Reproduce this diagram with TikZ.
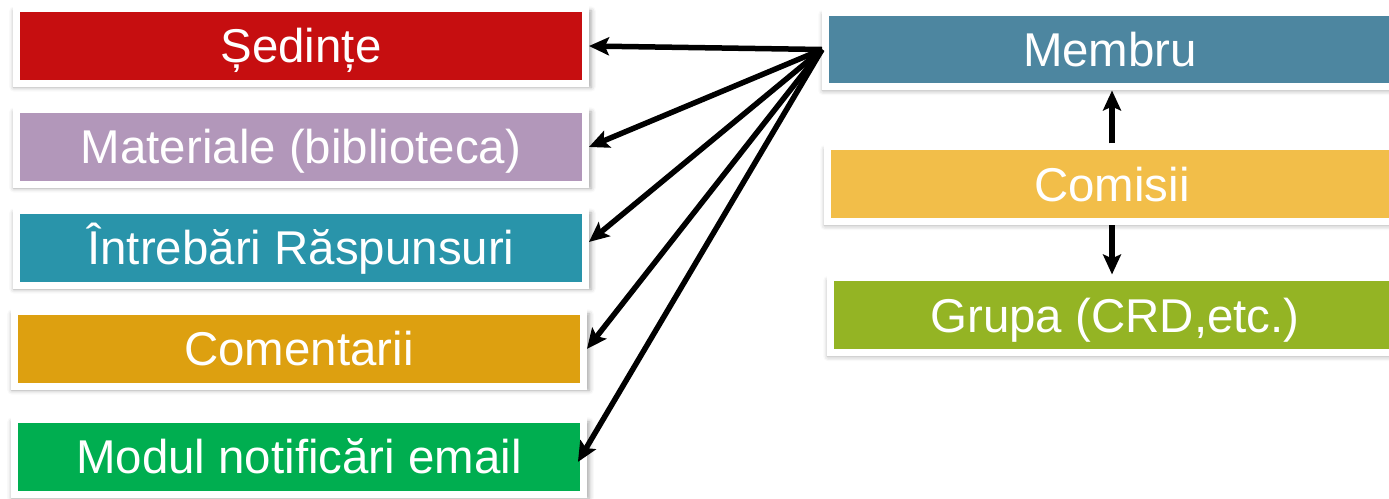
\documentclass[tikz,border=0pt]{standalone}
\usepackage{fontspec}
\setmainfont{Liberation Sans}
\usepackage{tikz}
\usetikzlibrary{
	positioning,
	arrows.meta,
	shadows.blur
}

\definecolor{cSedinte}{RGB}{198,14,16}
\definecolor{cMateriale}{RGB}{178,151,186}
\definecolor{cIntrebari}{RGB}{41,148,170}
\definecolor{cComentarii}{RGB}{221,160,16}
\definecolor{cModul}{RGB}{0,174,80}
\definecolor{cMembru}{RGB}{77,134,160}
\definecolor{cComisii}{RGB}{242,190,73}
\definecolor{cGrupa}{RGB}{148,180,36}

\tikzset{
	box/.style={draw=white, line width=0.14cm, text=white,
		minimum width=11.38cm, minimum height=1.5cm, inner sep=0pt,
		text height=19pt, text depth=0pt,
		font=\fontsize{27}{30}\selectfont,
		blur shadow={shadow xshift=0.03cm, shadow yshift=-0.06cm,
			shadow scale=1.015, shadow blur radius=0.09cm,
			shadow opacity=35}},
	link/.style={-{Stealth[length=0.4cm,width=0.36cm,inset=0.08cm]},
		line width=0.11cm, black}
}

\begin{document}
\begin{tikzpicture}[x=0.02cm,y=-0.02cm]
	\useasboundingbox (0,0) rectangle (1389,498);
	\draw
		node [box,fill=cSedinte] (sed) at (301,46) {Ședințe}
		node [box,fill=cMateriale,below=0.38cm of sed] (mat) {Materiale (biblioteca)}
		node [box,fill=cIntrebari,below=0.38cm of mat] (intr) {Întrebări Răspunsuri}
		node [box,fill=cComentarii,below=0.38cm of intr,xshift=-0.04cm] (com) {Comentarii}
		node [box,fill=cModul,below=0.52cm of com] (mod) {Modul notificări email}

		node [box,fill=cMembru] (membru) at (1110,49.5) {Membru}
		node [box,fill=cComisii,below=1.06cm of membru,xshift=0.04cm] (comisii) {Comisii}
		node [box,fill=cGrupa,below=0.98cm of comisii,xshift=0.06cm] (grupa) {Grupa (CRD,etc.)}

		(membru.west) edge[link] (sed.east)
		(membru.west) edge[link] (mat.east)
		(membru.west) edge[link] ([yshift=0.12cm]intr.east)
		(membru.west) edge[link] (com.east)
		(membru.west) edge[link] ([xshift=-0.18cm,yshift=-0.1cm]mod.east)
		(comisii.north) edge[link] (comisii.north |- membru.south)
		(comisii.south) edge[link] (comisii.south |- grupa.north)
	;
\end{tikzpicture}
\end{document}
